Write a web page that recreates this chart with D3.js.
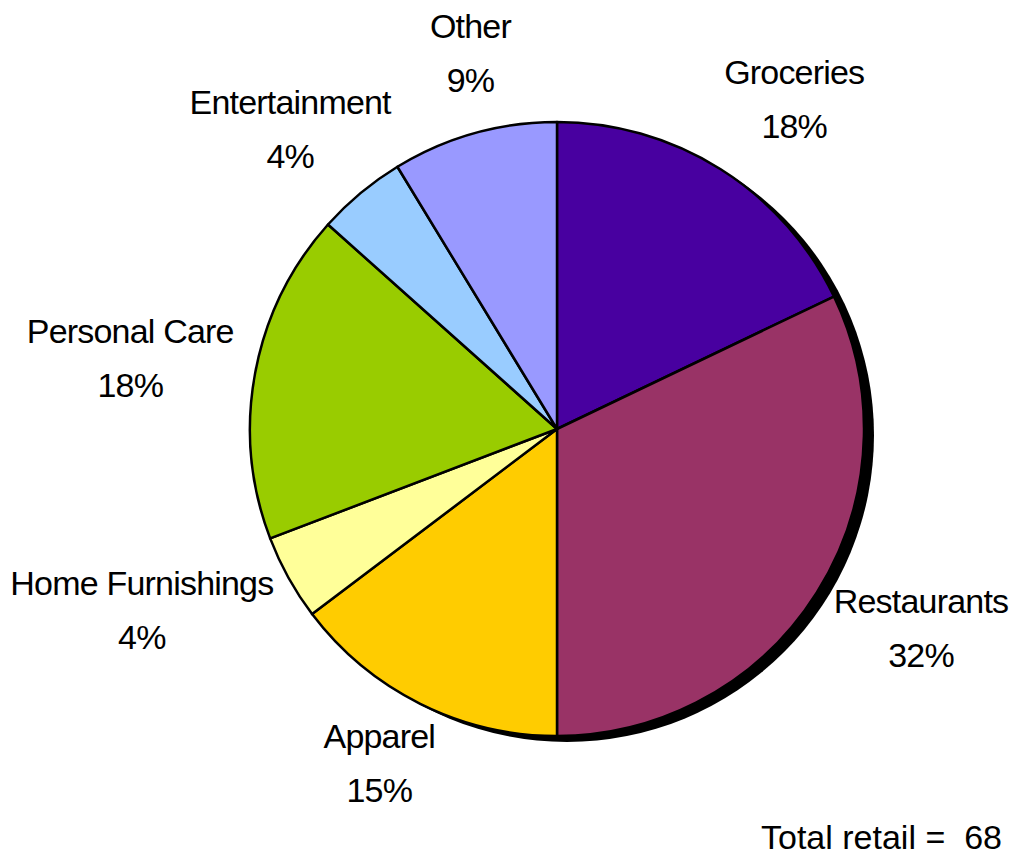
<!DOCTYPE html>
<html>
<head>
<meta charset="utf-8">
<script src="https://cdn.jsdelivr.net/npm/d3@7"></script>
<style>
  body { margin: 0; background: #fff; }
  text { font-family: "Liberation Sans", Arial, sans-serif; fill: #000; }
</style>
</head>
<body>
<div class="canvas"></div>
<script>
// Data (share of retail, %)
const categories = ['Groceries', 'Restaurants', 'Apparel', 'Home Furnishings', 'Personal Care', 'Entertainment', 'Other'];
const shares = [17.9, 32.1, 14.7, 4.5, 17.4, 4.7, 8.7];
const shareLabels = ['18%', '32%', '15%', '4%', '18%', '4%', '9%'];
const totalRetail = 68;

const sliceColors = ['#4800a0', '#993366', '#ffcc00', '#ffff99', '#99cc00', '#99ccff', '#9999ff'];

const dims = { width: 1020, height: 856, radius: 307 };
const cent = { x: 557, y: 429 };
const fontSize = 34;
const lineGap = 54; // baseline to baseline

const data = categories.map((name, i) => ({ name, value: shares[i], label: shareLabels[i] }));

const svg = d3.select('.canvas')
            .append('svg')
            .attr('width', dims.width)
            .attr('height', dims.height);

const graph = svg.append('g')
              .attr('transform', `translate(${cent.x}, ${cent.y})`);

const pie = d3.pie()
            .sort(null)
            .value(d => d.value);

const arcPath = d3.arc()
                .outerRadius(dims.radius)
                .innerRadius(0);

const color = d3.scaleOrdinal()
                .domain(categories)
                .range(sliceColors);

// drop shadow behind the pie
graph.append('circle')
     .attr('cx', 10)
     .attr('cy', 6)
     .attr('r', dims.radius)
     .attr('fill', '#000');

const arcs = pie(data);

graph.selectAll('path.arc')
     .data(arcs)
     .enter()
     .append('path')
     .attr('class', 'arc')
     .attr('d', arcPath)
     .attr('fill', d => color(d.data.name))
     .attr('stroke', '#000')
     .attr('stroke-width', 2.5)
     .attr('stroke-linejoin', 'round');

// Labels: two lines each, set outside the slice along its mid angle
const labels = graph.selectAll('g.label')
                    .data(arcs)
                    .enter()
                    .append('g')
                    .attr('class', 'label');

labels.append('text')
      .attr('class', 'name')
      .attr('text-anchor', 'middle')
      .attr('font-size', fontSize)
      .attr('letter-spacing', -0.8)
      .text(d => d.data.name);

labels.append('text')
      .attr('class', 'pct')
      .attr('text-anchor', 'middle')
      .attr('font-size', fontSize)
      .attr('letter-spacing', -0.8)
      .text(d => d.data.label);

const labelRadius = 343;
const halfHeight = 30;
const upperNudge = 17;

labels.each(function(d) {
    const g = d3.select(this);
    const w = Math.max(g.select('.name').node().getComputedTextLength(),
                       g.select('.pct').node().getComputedTextLength());
    const mid = (d.startAngle + d.endAngle) / 2;
    const s = Math.sin(mid), c = Math.cos(mid);
    // upper labels sit a little higher and to the right
    const up = Math.max(c, 0);
    const cx = (labelRadius + w / 2) * s + upperNudge * Math.min(1, up * 4);
    const cy = -(labelRadius + halfHeight) * c - upperNudge * up;
    g.select('.name').attr('x', cx).attr('y', cy - 15);
    g.select('.pct').attr('x', cx).attr('y', cy - 15 + lineGap);
});

svg.append('text')
   .attr('x', 1002)
   .attr('y', 849)
   .attr('text-anchor', 'end')
   .attr('font-size', fontSize)
   .style('white-space', 'pre')
   .text(`Total retail =  ${totalRetail}`);
</script>
</body>
</html>
